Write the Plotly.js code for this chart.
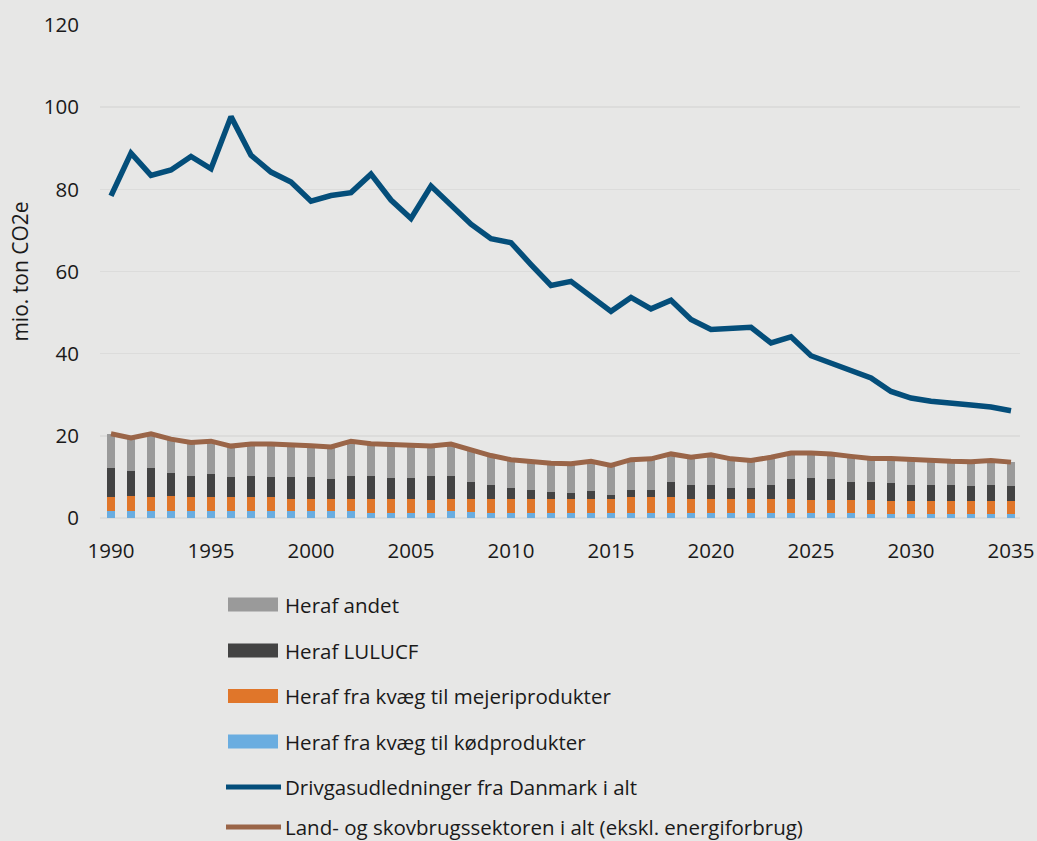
<!DOCTYPE html>
<html>
<head>
<meta charset="utf-8">
<script src="https://cdn.plot.ly/plotly-3.0.1.min.js"></script>
<style>
  html, body { margin: 0; padding: 0; background: #e7e7e6; }
  #chart { width: 1037px; height: 841px; }
</style>
</head>
<body>
<div id="chart"></div>
<script>
// ---- Data (mio. ton CO2e) ----
const years = [];
for (let y = 1990; y <= 2035; y++) years.push(y);

const koedprodukter = [1.65,1.65,1.65,1.65,1.65,1.65,1.65,1.65,1.65,1.65,1.65,1.65,1.65,1.26,1.26,1.26,1.26,1.65,1.5,1.26,1.26,1.26,1.26,1.26,1.26,1.26,1.26,1.26,1.26,1.26,1.26,1.26,1.26,1.26,1.26,1.26,1.26,1.26,0.93,0.93,0.93,0.93,0.93,0.93,0.93,0.93];
const mejeriprodukter = [3.4,3.75,3.4,3.75,3.4,3.4,3.4,3.4,3.4,3.05,3.05,3.05,3.05,3.44,3.44,3.44,3.14,3.05,3.2,3.44,3.44,3.44,3.39,3.39,3.39,3.39,3.79,3.79,3.79,3.39,3.39,3.39,3.39,3.39,3.44,3.14,3.14,3.14,3.47,3.17,3.17,3.17,3.17,3.17,3.17,3.17];
const lulucf = [7.15,6.1,7.15,5.6,5.25,5.65,5.05,5.25,4.95,5.3,5.3,4.7,5.6,5.6,5.1,5.0,5.9,5.6,4.1,3.4,2.5,2.0,1.65,1.35,1.85,0.95,1.85,1.85,3.65,3.45,3.45,2.55,2.55,3.45,4.7,5.3,5.0,4.3,4.3,4.3,4.0,4.0,4.0,3.7,4.0,3.7];
const andet = [8.3,8.0,8.3,8.2,8.1,8.0,7.4,7.7,8.0,7.9,7.6,7.9,8.4,7.8,8.1,7.9,7.2,7.7,7.7,7.1,7.0,6.9,7.0,7.2,7.3,7.2,7.3,7.5,6.9,6.7,7.3,7.2,6.8,6.7,6.4,6.1,6.2,6.3,5.8,6.1,6.1,5.7,5.7,5.9,5.9,5.8];
const danmarkIAlt = [78.4,88.8,83.4,84.7,88.0,85.0,97.7,88.3,84.2,81.8,77.1,78.5,79.2,83.7,77.4,72.9,80.8,76.3,71.5,68.0,67.0,61.7,56.6,57.6,54.0,50.3,53.7,50.9,53.0,48.3,45.9,46.1,46.4,42.6,44.1,39.5,37.7,35.9,34.1,30.8,29.2,28.4,27.8,27.5,27.0,26.1];
const landbrugIAlt = years.map((_, i) =>
  +(koedprodukter[i] + mejeriprodukter[i] + lulucf[i] + andet[i]).toFixed(2));

const names = {
  andet: "Heraf andet",
  lulucf: "Heraf LULUCF",
  mejeri: "Heraf fra kvæg til mejeriprodukter",
  koed: "Heraf fra kvæg til kødprodukter",
  dk: "Drivgasudledninger fra Danmark i alt",
  land: "Land- og skovbrugssektoren i alt (ekskl. energiforbrug)"
};
const xTicks = [1990,1995,2000,2005,2010,2015,2020,2025,2030,2035];
const yTicks = [0,20,40,60,80,100,120];

// ---- Styles ----
const C = {
  koed: "#6aade0", mejeri: "#e0762a", lulucf: "#434343", andet: "#9a9a9a",
  dk: "#044e7a", land: "#9a6548", bg: "#e7e7e6", grid: "#dcdcdb", text: "#1a1a1a"
};
const FONT = "'Open Sans', 'DejaVu Sans', sans-serif";

const traces = [
  {type: "bar", x: years, y: koedprodukter, name: names.koed, marker: {color: C.koed}, showlegend: false},
  {type: "bar", x: years, y: mejeriprodukter, name: names.mejeri, marker: {color: C.mejeri}, showlegend: false},
  {type: "bar", x: years, y: lulucf, name: names.lulucf, marker: {color: C.lulucf}, showlegend: false},
  {type: "bar", x: years, y: andet, name: names.andet, marker: {color: C.andet}, showlegend: false},
  {type: "scatter", mode: "lines", x: years, y: landbrugIAlt, name: names.land,
   line: {color: C.land, width: 5}, showlegend: false},
  {type: "scatter", mode: "lines", x: years, y: danmarkIAlt, name: names.dk,
   line: {color: C.dk, width: 5.5}, showlegend: false}
];

// ---- Custom legend (paper coordinates) ----
const L = 100, R = 1020, T = 25, B = 518;
const px2x = px => (px - L) / (R - L);
const py2y = py => (B - py) / (B - T);
const legendItems = [
  {name: names.andet, color: C.andet, kind: "rect", cy: 604.5},
  {name: names.lulucf, color: C.lulucf, kind: "rect", cy: 650.5},
  {name: names.mejeri, color: C.mejeri, kind: "rect", cy: 696},
  {name: names.koed, color: C.koed, kind: "rect", cy: 741.5},
  {name: names.dk, color: C.dk, kind: "line", cy: 787},
  {name: names.land, color: C.land, kind: "line", cy: 827}
];
const shapes = [], annotations = [];
legendItems.forEach(it => {
  if (it.kind === "rect") {
    shapes.push({type: "rect", xref: "paper", yref: "paper",
      x0: px2x(228), x1: px2x(278), y0: py2y(it.cy + 7), y1: py2y(it.cy - 7),
      fillcolor: it.color, line: {width: 0}});
  } else {
    shapes.push({type: "line", xref: "paper", yref: "paper",
      x0: px2x(226), x1: px2x(281), y0: py2y(it.cy), y1: py2y(it.cy),
      line: {color: it.color, width: 5}});
  }
  annotations.push({xref: "paper", yref: "paper", x: px2x(283), y: py2y(it.cy),
    xanchor: "left", yanchor: "middle", showarrow: false, text: it.name,
    font: {family: FONT, size: 20.5, color: C.text}});
});

const layout = {
  width: 1037, height: 841,
  paper_bgcolor: C.bg, plot_bgcolor: C.bg,
  margin: {l: L, r: 1037 - R, t: T, b: 841 - B, pad: 0},
  barmode: "stack", bargap: 0.6,
  showlegend: false,
  font: {family: FONT, color: C.text},
  xaxis: {
    range: [1989.45, 2035.45], tickvals: xTicks, ticktext: xTicks.map(String),
    showgrid: false, zeroline: false, showline: false,
    ticks: "outside", ticklen: 14, tickcolor: "rgba(0,0,0,0)",
    tickfont: {family: FONT, size: 20.5, color: C.text}
  },
  yaxis: {
    range: [0, 120], tickvals: yTicks, ticktext: yTicks.map(String),
    showgrid: true, gridcolor: C.grid, gridwidth: 1.5,
    zeroline: true, zerolinecolor: C.grid, zerolinewidth: 1.5, showline: false,
    ticks: "outside", ticklen: 16, tickcolor: "rgba(0,0,0,0)",
    tickfont: {family: FONT, size: 20.5, color: C.text},
    title: {text: "mio. ton CO2e", font: {family: FONT, size: 21, color: C.text}, standoff: 9}
  },
  shapes: shapes,
  annotations: annotations
};

Plotly.newPlot("chart", traces, layout, {displayModeBar: false, staticPlot: true});
</script>
</body>
</html>
